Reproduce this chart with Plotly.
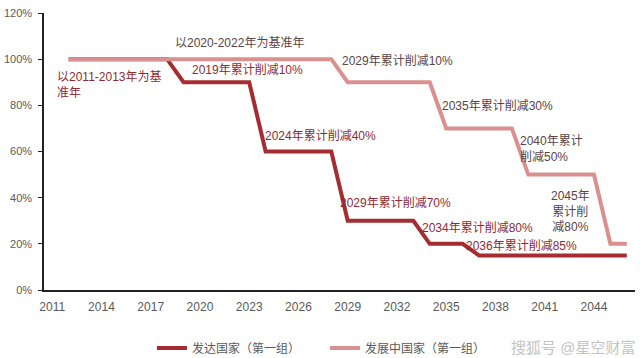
import plotly.graph_objects as go

# ---- data ----
years = list(range(2012, 2047))
developed = [100]*7 + [90]*5 + [60]*5 + [30]*5 + [20]*3 + [15]*10
developing = [100]*17 + [90]*6 + [70]*5 + [50]*5 + [20]*2
name_dev = "发达国家（第一组）"
name_dvg = "发展中国家（第一组）"
xtick_vals = list(range(2011, 2045, 3))
ytick_vals = [0, 20, 40, 60, 80, 100, 120]
ytick_text = ["0%", "20%", "40%", "60%", "80%", "100%", "120%"]

# annotations: (text, x-year, y-value, xanchor, align)
notes_dev = [
    ("以2011-2013年为基<br>准年", 2011.18, 88.7, "left", "left"),
    ("2019年累计削减10%", 2019.39, 95.2, "left", "left"),
    ("2024年累计削减40%", 2023.83, 66.7, "left", "left"),
    ("2029年累计削减70%", 2028.39, 37.7, "left", "left"),
    ("2034年累计削减80%", 2033.43, 26.8, "left", "left"),
    ("2036年累计削减85%", 2036.11, 19.0, "left", "left"),
]
notes_dvg = [
    ("以2020-2022年为基准年", 2018.36, 106.9, "left", "left"),
    ("2029年累计削减10%", 2028.51, 99.1, "left", "left"),
    ("2035年累计削减30%", 2034.65, 79.7, "left", "left"),
    ("2040年累计<br>削减50%", 2039.39, 61.0, "left", "left"),
    ("2045年<br>累计削<br>减80%", 2042.55, 34.2, "center", "center"),
]

DARK = "#A52D32"
LIGHT = "#D9908F"
FONT = "Liberation Sans, Noto Sans CJK SC, sans-serif"

fig = go.Figure()
fig.add_trace(go.Scatter(x=years, y=developed, mode="lines", name=name_dev,
                         line=dict(color=DARK, width=4), legend="legend"))
fig.add_trace(go.Scatter(x=years, y=developing, mode="lines", name=name_dvg,
                         line=dict(color=LIGHT, width=4), legend="legend2"))

for txt, x, y, xa, al in notes_dev:
    fig.add_annotation(x=x, y=y, xref="x", yref="y", text=txt, showarrow=False,
                       xanchor=xa, yanchor="middle", align=al,
                       font=dict(family=FONT, size=12, color="#8C2B33"))
for txt, x, y, xa, al in notes_dvg:
    fig.add_annotation(x=x, y=y, xref="x", yref="y", text=txt, showarrow=False,
                       xanchor=xa, yanchor="middle", align=al,
                       font=dict(family=FONT, size=12, color="#5A4444"))

fig.add_annotation(x=0.895, y=-0.209, xref="paper", yref="paper",
                   text="搜狐号 @星空财富", showarrow=False,
                   xanchor="center", yanchor="middle",
                   font=dict(family=FONT, size=15, color="#C4C4C4"))

legend_common = dict(orientation="h", yanchor="middle", y=-0.209, xanchor="left",
                     bgcolor="rgba(0,0,0,0)", borderwidth=0,
                     font=dict(family=FONT, size=12, color="#595959"))

fig.update_layout(
    width=640, height=358,
    margin=dict(l=44, r=5, t=13, b=68, autoexpand=False),
    paper_bgcolor="white", plot_bgcolor="white",
    showlegend=True,
    legend=dict(x=0.1827, **legend_common),
    legend2=dict(x=0.4755, **legend_common),
    xaxis=dict(range=[2010.5, 2046.5], tickmode="array", tickvals=xtick_vals,
               showgrid=False, zeroline=False, showline=True, linecolor="#222222",
               linewidth=2, ticks="", ticklabelstandoff=5, automargin=False,
               tickfont=dict(family=FONT, size=12, color="#595959")),
    yaxis=dict(range=[0, 120], tickmode="array", tickvals=ytick_vals,
               ticktext=ytick_text, showgrid=False, zeroline=False, showline=True,
               linecolor="#222222", linewidth=1.5, ticks="outside", ticklen=4,
               tickcolor="#222222", ticklabelstandoff=4, automargin=False,
               tickfont=dict(family=FONT, size=11, color="#595959")),
)

fig.write_html("out.html")
